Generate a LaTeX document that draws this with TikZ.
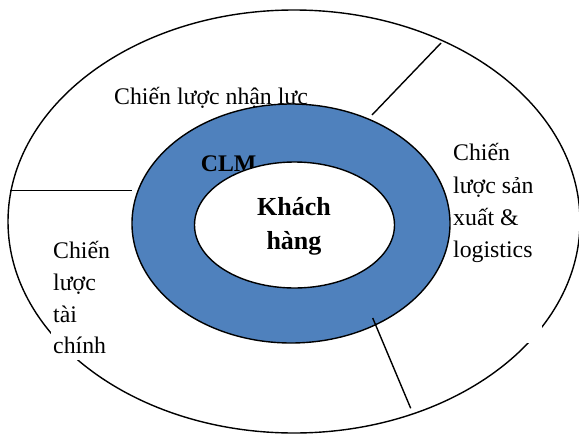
\documentclass[tikz,border=0pt]{standalone}
\usepackage{fontspec}
\setmainfont{Liberation Serif}
\usetikzlibrary{shapes.geometric}
\definecolor{ringblue}{HTML}{4F81BD}
\begin{document}
\begin{tikzpicture}[x=1pt,y=-1pt,
  oval/.style={ellipse, draw=black, line width=1.4pt, inner sep=0pt},
  divider/.style={draw=black, line width=1.4pt},
  lbl/.style={anchor=base west, inner sep=0pt, font=\fontsize{23.8}{28}\selectfont},
  lblb/.style={anchor=base, inner sep=0pt, font=\fontsize{26}{30}\selectfont\bfseries},
  cover/.style={fill=white, draw=none}]
\useasboundingbox (0,0) rectangle (579,434);

% outer ring of strategies
\node[oval, minimum width=572pt, minimum height=423pt] (outer) at (294,221.5) {};

% text boxes that mask the outer ellipse
\path[cover] (451,128) rectangle (542,343);
\path[cover] (51,228) rectangle (120,360);

% right label
\node[lbl] (r1) at (453,160) {Chiến};
\node[lbl] (r2) at (453,193) {lược sản};
\node[lbl] (r3) at (453,225) {xuất \&};
\node[lbl] (r4) at (453,257) {logistics};

% left label
\node[lbl] (l1) at (53,258) {Chiến};
\node[lbl] (l2) at (53,290) {lược};
\node[lbl] (l3) at (53,322) {tài};
\node[lbl] (l4) at (53,353) {chính};

% top label
\node[lbl] (t1) at (114,104) {Chiến lược nhận lực};

% blue CLM ring
\node[oval, fill=ringblue, minimum width=318pt, minimum height=239pt] (ring) at (291,223.5) {};

% dividers
\coordinate (a1) at (372,115);  \coordinate (a2) at (441,43);
\coordinate (b1) at (10,190.7); \coordinate (b2) at (132,190.7);
\coordinate (c1) at (372.7,318); \coordinate (c2) at (410.7,408.3);
\draw[divider] (a1) -- (a2);
\draw[divider] (b1) -- (b2);
\draw[divider] (c1) -- (c2);

\node[lbl, font=\fontsize{23.8}{28}\selectfont\bfseries] (clm) at (200.7,171.7) {CLM};

% customer core
\node[oval, fill=white, minimum width=200pt, minimum height=126pt] (core) at (294.5,225) {};
\node[lblb] (k1) at (294,215) {Khách};
\node[lblb] (k2) at (294,249) {hàng};
\end{tikzpicture}
\end{document}
